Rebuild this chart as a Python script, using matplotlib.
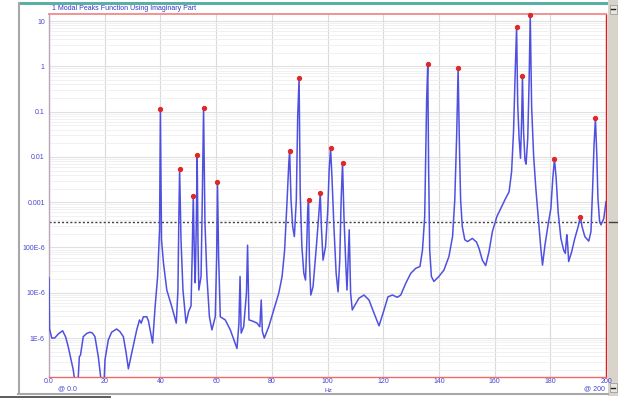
import numpy as np
import matplotlib
matplotlib.use("Agg")
import matplotlib.pyplot as plt
from matplotlib.ticker import FixedLocator, LogLocator, NullFormatter
from matplotlib.patches import Rectangle

# Imaginary-part modal peak function: frequency (Hz) and log10 magnitude
freq = [0.0, 0.2, 1.0, 2.0, 3.5, 4.9, 6.0, 6.9, 8.7, 9.6, 10.3, 10.9, 11.3, 12.3,
        13.5, 14.7, 15.6, 16.5, 17.7, 19.0, 19.7, 20.1, 21.3, 22.5, 24.3, 25.5,
        26.7, 27.7, 28.5, 29.7,
        31.5, 32.5, 33.1, 33.9, 35.1, 35.7, 37.2, 38.1, 39.0, 39.7, 40.0, 40.4,
        41.1, 42.3, 44.1, 45.7, 46.3, 46.6, 46.9, 47.4, 48.1, 49.2, 50.1, 51.0,
        51.4, 51.8, 52.2, 52.5, 52.9, 53.2, 53.5, 53.8, 54.6, 55.0, 55.5, 56.0,
        56.7, 57.6, 58.5, 59.7, 60.2, 60.5, 60.9, 61.5, 63.3, 65.1, 67.5, 68.2,
        68.6, 69.0, 69.9, 70.9, 71.3, 71.8, 72.9, 74.7, 75.7, 76.2, 76.6, 77.3,
        78.9, 80.7, 82.5, 83.7, 84.6, 85.5, 86.1, 86.4, 86.9, 87.5, 88.1, 88.8,
        89.3, 89.8, 90.2, 90.8, 91.5, 92.1, 92.6, 92.9, 93.2, 93.5, 94.0, 94.8,
        96.0, 97.0, 97.4, 97.8, 98.4, 99.3, 100.1, 100.6, 101.1, 101.6, 102.3,
        103.1, 103.8, 104.4, 104.9, 105.4, 105.9, 106.6, 107.0, 107.4, 107.8,
        108.3, 108.9, 109.5, 111.3, 113.1, 114.9, 116.7, 118.5, 120.3, 121.7,
        123.3, 125.1, 126.3, 128.1, 129.9, 131.7, 133.2, 134.1, 134.9, 135.6,
        136.0, 136.3, 136.7, 137.3, 138.2, 140.0, 141.8, 143.6, 144.9, 145.7,
        146.4, 146.9, 147.4, 147.8, 148.4, 149.3, 150.3, 152.0, 153.5, 154.4,
        155.6, 156.8, 158.0, 159.2, 160.8, 162.2, 164.0, 165.2, 166.1, 166.8,
        167.4, 167.9, 168.3, 168.8, 169.3, 169.7, 170.0, 170.4, 170.9, 171.3,
        171.9, 172.4, 172.8, 173.3, 174.0, 174.8, 175.8, 176.6, 177.2, 178.1,
        179.2, 180.2, 180.9, 181.5, 182.1, 182.8, 183.8, 184.8, 185.4, 185.9,
        186.2, 186.6, 187.7, 188.8, 190.0, 190.8, 191.4, 192.4, 193.8, 194.6,
        195.2, 195.7, 196.2, 196.7, 197.1, 197.7, 198.2, 199.2, 200.0]
log_mag = [-4.67, -5.80, -6.00, -6.00, -5.90, -5.84, -5.98, -6.19, -6.70, -7.10, -7.10,
           -6.41, -6.38, -5.97, -5.90, -5.87, -5.89, -5.97, -6.41, -7.10, -7.10, -6.48,
           -6.04, -5.87, -5.80, -5.86, -5.97, -6.33, -6.68, -6.33, -5.82, -5.60, -5.67,
           -5.53, -5.53, -5.62, -6.11,
           -5.31, -4.64, -3.61, -0.94, -3.83, -4.34, -4.94, -5.31, -5.67, -4.94, -3.46,
           -2.27, -3.83, -4.94, -5.67, -5.42, -5.29, -4.20, -2.86, -4.20, -4.78, -3.46,
           -1.96, -3.90, -4.94, -4.64, -3.10, -0.93, -3.46, -4.64, -5.53, -5.82, -5.53,
           -4.20, -2.55, -4.20, -5.53, -5.60, -5.82, -6.23, -5.67, -4.64, -5.89, -5.75,
           -5.00, -3.95, -5.60, -5.62, -5.67, -5.75, -5.16, -5.85, -6.00, -5.75, -5.38,
           -5.01, -4.64, -4.06, -2.95, -2.14, -1.86, -2.95, -3.54, -3.76, -2.95, -1.11,
           -0.265, -2.80, -3.98, -4.57, -4.72, -3.83, -3.17, -2.95, -4.28, -5.05, -4.87,
           -3.98, -3.17, -2.80, -3.54, -4.28, -3.98, -3.17, -2.29, -1.81, -2.44, -3.54,
           -4.57, -4.98, -4.28, -2.95, -2.13, -3.30, -4.42, -4.94, -4.28, -3.61, -5.01,
           -5.38, -5.31, -5.12, -5.05, -5.16, -5.45, -5.73, -5.38, -5.09, -5.05, -5.10,
           -5.05, -4.79, -4.57, -4.46, -4.42, -4.06, -3.32, -0.74, 0.04, -2.22, -4.06,
           -4.64, -4.75, -4.64, -4.50, -4.20, -3.76, -2.95, -1.48, -0.04, -1.85, -2.95,
           -3.54, -3.83, -3.87, -3.80, -3.88, -4.02, -4.28, -4.40, -4.09, -3.65, -3.32,
           -3.14, -2.91, -2.77, -2.33, -1.44, -0.12, 0.87, -0.85, -1.59, -2.03, -1.22,
           -0.21, -1.44, -2.07, -2.16, -1.59, -0.30, 1.14, -0.90, -1.96, -2.69, -3.43,
           -4.02, -4.39, -3.94, -3.50, -3.14, -2.47, -2.05, -2.47, -3.21, -3.80, -4.06,
           -4.13, -3.72, -3.90, -4.31, -4.09, -3.80, -3.54, -3.32, -3.54, -3.76, -3.86,
           -3.65, -2.69, -1.74, -1.15, -1.96, -2.91, -3.43, -3.50, -3.36, -2.99]

# Frequencies of the detected modal peaks (marked in red)
peak_freq = [40.0, 46.9, 51.8, 53.2, 55.5, 60.5, 86.4, 89.8, 93.2, 97.4, 101.1,
             105.4, 136.0, 146.9, 167.9, 170.0, 172.8, 181.5, 190.8, 196.2]

threshold = 3.7e-4

x_ticks = [0, 20, 40, 60, 80, 100, 120, 140, 160, 180, 200]
x_labels = ["0.0", "20", "40", "60", "80", "100", "120", "140", "160", "180", "200"]
y_ticks = [1e-6, 1e-5, 1e-4, 1e-3, 1e-2, 1e-1, 1, 10]
y_labels = ["1E-6", "10E-6", "100E-6", "0.001", "0.01", "0.1", "1", "10"]

title = "1 Modal Peaks Function Using Imaginary Part"

W, H = 618, 398
fig = plt.figure(figsize=(W / 100, H / 100), dpi=100)
fig.patch.set_facecolor("white")

BLUE_TXT = "#4646d2"
FONT = "Liberation Sans"

# window chrome in pixel coordinates
bg = fig.add_axes([0, 0, 1, 1], zorder=0)
bg.set_xlim(0, W)
bg.set_ylim(H, 0)
bg.axis("off")
bg.add_patch(Rectangle((18, 1.5), 592, 3, color="#58b0a8", lw=0))
bg.add_patch(Rectangle((608, 0), 10, 396, color="#d8d4cc", lw=0))
bg.add_patch(Rectangle((609.5, 5), 7.5, 9, facecolor="#e8e6e0", edgecolor="#909090", lw=0.5))
bg.add_patch(Rectangle((609.5, 383), 7.5, 9, facecolor="#e8e6e0", edgecolor="#909090", lw=0.5))
bg.plot([611, 615], [9, 9], color="#202020", lw=1)
bg.plot([611, 615], [387.5, 387.5], color="#202020", lw=1)
bg.plot([609, 618], [221.5, 221.5], color="#404040", lw=1)
bg.plot([18.5, 18.5], [3, 393], color="#a8a8a8", lw=1.5)
bg.plot([18, 608], [393.5, 393.5], color="#a8a8a8", lw=1.5)
bg.add_patch(Rectangle((0, 395.5), 111, 2.5, color="#606060", lw=0))
bg.text(52, 8.5, title, color="#3434c8", fontsize=5, family=FONT, va="center", ha="left")
bg.text(58, 388.5, "@ 0.0", color=BLUE_TXT, fontsize=5, family=FONT, va="center", ha="left")
bg.text(328, 390, "Hz", color=BLUE_TXT, fontsize=4.6, family=FONT, va="center", ha="center")
bg.text(605, 389, "@ 200", color=BLUE_TXT, fontsize=5, family=FONT, va="center", ha="right")

ax = fig.add_axes([49 / W, 1 - 377 / H, (606 - 49) / W, (377 - 14) / H], zorder=1)
ax.set_facecolor("white")
ax.set_yscale("log")
ax.set_xlim(0, 200)
ax.set_ylim(10 ** -6.86, 10 ** 1.155)

mag = 10.0 ** np.array(log_mag)
f = np.array(freq)

ax.yaxis.set_major_locator(FixedLocator(y_ticks))
ax.set_yticklabels(y_labels)
ax.yaxis.set_minor_locator(LogLocator(base=10, subs=np.arange(2, 10), numticks=30))
ax.yaxis.set_minor_formatter(NullFormatter())
ax.set_xticks(x_ticks)
ax.set_xticklabels(x_labels)

ax.grid(True, which="major", axis="y", color="#e0e0e0", lw=0.8)
ax.grid(True, which="minor", axis="y", color="#efefef", lw=0.6)
ax.grid(True, which="major", axis="x", color="#dadada", lw=0.8)
ax.tick_params(axis="both", which="both", length=0, labelsize=5, labelcolor=BLUE_TXT)
ax.tick_params(axis="y", pad=3)
ax.tick_params(axis="x", pad=1.0)
for lab in ax.get_xticklabels() + ax.get_yticklabels():
    lab.set_family(FONT)

ax.axhline(threshold, color="#404040", lw=1, ls=(0, (1.5, 1.5)), zorder=2)
ax.plot(f, mag, color="#5050e0", lw=1.1, zorder=3, clip_on=True)

is_peak = np.isin(np.round(f, 2), np.round(peak_freq, 2))
ax.plot(f[is_peak], mag[is_peak], ls="none", marker="o", ms=2.8,
        color="#e02828", mec="#e02828", zorder=4, clip_on=False)

ax.spines["top"].set_color("#f28a8a")
ax.spines["top"].set_linewidth(1.3)
ax.spines["bottom"].set_color("#f06a6a")
ax.spines["bottom"].set_linewidth(1.0)
ax.spines["right"].set_color("#d42020")
ax.spines["right"].set_linestyle((0, (1.5, 1)))
ax.spines["right"].set_linewidth(1.0)
ax.spines["left"].set_color("#b8a8b8")
ax.spines["left"].set_linestyle((0, (1.5, 1)))
ax.spines["left"].set_linewidth(1.0)

fig.savefig("out.png", dpi=100)
